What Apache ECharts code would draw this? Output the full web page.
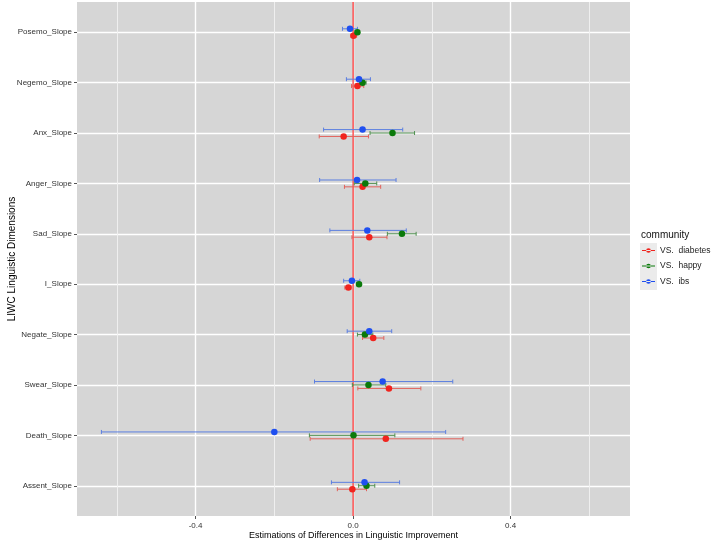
<!DOCTYPE html>
<html>
<head>
<meta charset="utf-8">
<script src="https://cdn.jsdelivr.net/npm/echarts@6/dist/echarts.min.js"></script>
<style>
  html, body { margin: 0; padding: 0; background: #fff; }
  #chart { width: 712px; height: 544px; }
</style>
</head>
<body>
<div id="chart"></div>
<script>
// 数据
var categories = ['Posemo_Slope', 'Negemo_Slope', 'Anx_Slope', 'Anger_Slope', 'Sad_Slope',
                  'I_Slope', 'Negate_Slope', 'Swear_Slope', 'Death_Slope', 'Assent_Slope'];

var diabetesEst  = [0.001, 0.011, -0.024, 0.024, 0.041, -0.012, 0.051, 0.091, 0.083, -0.002];
var diabetesLow  = [-0.006, -0.004, -0.086, -0.022, -0.003, -0.021, 0.024, 0.012, -0.109, -0.040];
var diabetesHigh = [0.009, 0.027, 0.039, 0.070, 0.086, -0.005, 0.078, 0.172, 0.279, 0.034];

var happyEst  = [0.011, 0.024, 0.100, 0.031, 0.124, 0.015, 0.030, 0.039, 0.001, 0.034];
var happyLow  = [0.005, 0.016, 0.043, 0.003, 0.087, 0.010, 0.011, -0.002, -0.111, 0.014];
var happyHigh = [0.016, 0.033, 0.156, 0.060, 0.160, 0.020, 0.050, 0.083, 0.106, 0.055];

var ibsEst  = [-0.008, 0.015, 0.024, 0.010, 0.036, -0.003, 0.041, 0.075, -0.200, 0.029];
var ibsLow  = [-0.027, -0.017, -0.075, -0.085, -0.059, -0.024, -0.015, -0.098, -0.639, -0.055];
var ibsHigh = [0.011, 0.044, 0.126, 0.109, 0.135, 0.017, 0.098, 0.253, 0.235, 0.118];

var xMajorTicks = [-0.4, 0, 0.4];
var xMinorTicks = [-0.6, -0.2, 0.2, 0.6];
var refLine = [0];

var communities = [
    { name: 'VS.  diabetes', est: diabetesEst, low: diabetesLow, high: diabetesHigh, color: '#f0241e', bar: '#e2625c', dodge: 0.068 },
    { name: 'VS.  happy',    est: happyEst,    low: happyLow,    high: happyHigh,    color: '#0b7a0b', bar: '#4f8f4f', dodge: 0 },
    { name: 'VS.  ibs',      est: ibsEst,      low: ibsLow,      high: ibsHigh,      color: '#1f4ff0', bar: '#5c7fe0', dodge: -0.068 }
];

var myChart = echarts.init(document.getElementById('chart'));

var rowIdx = categories.map(function (c, i) { return i; });
var legendIcon = 'path://M0,4.4H20V5.6H0Z M6.4,5A3.6,3.6,0,1,0,13.6,5A3.6,3.6,0,1,0,6.4,5Z';

var series = [];

// x = 0 参考线 (红色竖线)
series.push({
    name: 'zero',
    type: 'custom',
    xAxisIndex: 0,
    z: 2,
    silent: true,
    renderItem: function (params, api) {
        var top = api.coord([api.value(0), -0.6]);
        var bottom = api.coord([api.value(0), 9.6]);
        return {
            type: 'line',
            shape: { x1: top[0], y1: top[1], x2: bottom[0], y2: bottom[1] },
            style: { stroke: '#ff0000', lineWidth: 1 }
        };
    },
    encode: { x: 0 },
    data: refLine.map(function (v) { return [v]; })
});

communities.forEach(function (c) {
    // 误差线
    series.push({
        name: c.name,
        type: 'custom',
        xAxisIndex: 0,
        z: 3,
        renderItem: function (params, api) {
            var y = api.value(2);
            var p1 = api.coord([api.value(0), y]);
            var p2 = api.coord([api.value(1), y]);
            var cap = 2;
            var st = { stroke: c.bar, lineWidth: 1 };
            return {
                type: 'group',
                children: [
                    { type: 'line', shape: { x1: p1[0], y1: p1[1], x2: p2[0], y2: p2[1] }, style: st },
                    { type: 'line', shape: { x1: p1[0], y1: p1[1] - cap, x2: p1[0], y2: p1[1] + cap }, style: st },
                    { type: 'line', shape: { x1: p2[0], y1: p2[1] - cap, x2: p2[0], y2: p2[1] + cap }, style: st }
                ]
            };
        },
        encode: { x: [0, 1], y: 2 },
        data: rowIdx.map(function (i) { return [c.low[i], c.high[i], i + c.dodge]; }),
        silent: true
    });
    // 点
    series.push({
        name: c.name,
        type: 'scatter',
        xAxisIndex: 0,
        z: 4,
        symbol: 'circle',
        symbolSize: 6.5,
        itemStyle: { color: c.color, opacity: 1 },
        data: rowIdx.map(function (i) { return [c.est[i], i + c.dodge]; })
    });
});

option = {
    animation: false,
    backgroundColor: '#ffffff',
    title: {
        text: 'community',
        left: 641,
        top: 230,
        padding: 0,
        textStyle: { fontFamily: 'Liberation Sans', fontSize: 10, fontWeight: 'normal', color: '#111' }
    },
    legend: {
        orient: 'vertical',
        left: 642,
        top: 245,
        padding: 0,
        itemWidth: 13,
        itemHeight: 6,
        itemGap: 4.5,
        icon: legendIcon,
        data: communities.map(function (c) {
            return { name: c.name, itemStyle: { color: c.color } };
        }),
        textStyle: { fontFamily: 'Liberation Sans', fontSize: 8.5, color: '#222', lineHeight: 11 }
    },
    graphic: [
        { type: 'rect', left: 640, top: 243, z: -1, shape: { width: 17, height: 47 }, style: { fill: '#ebebeb' } }
    ],
    grid: {
        left: 77, top: 2, width: 553, height: 514,
        outerBoundsMode: 'none',
        containLabel: false,
        show: true, backgroundColor: '#d6d6d6', borderWidth: 0
    },
    xAxis: [
        {
            type: 'value',
            min: -0.701, max: 0.703,
            name: 'Estimations of Differences in Linguistic Improvement',
            nameLocation: 'middle',
            nameGap: 15,
            nameMoveOverlap: false,
            nameTextStyle: { fontFamily: 'Liberation Sans', fontSize: 9, color: '#000' },
            axisLine: { show: false, onZero: false },
            axisTick: { show: true, length: 3, customValues: xMajorTicks, lineStyle: { color: '#555' } },
            axisLabel: {
                customValues: xMajorTicks,
                margin: 6,
                fontFamily: 'Liberation Sans', fontSize: 8, color: '#333',
                formatter: function (v) { return v.toFixed(1); }
            },
            splitLine: { show: true, lineStyle: { color: '#ffffff', width: 1.4 } }
        },
        {
            type: 'value',
            min: -0.701, max: 0.703,
            gridIndex: 0,
            position: 'bottom',
            axisLine: { show: false, onZero: false },
            axisTick: { show: false, customValues: xMinorTicks },
            axisLabel: { show: false, customValues: xMinorTicks },
            splitLine: { show: true, lineStyle: { color: '#f2f2f2', width: 0.9 } }
        }
    ],
    yAxis: {
        type: 'value',
        inverse: true,
        min: -0.6, max: 9.6,
        name: 'LIWC Linguistic Dimensions',
        nameLocation: 'middle',
        nameGap: 60,
        nameMoveOverlap: false,
        nameTextStyle: { fontFamily: 'Liberation Sans', fontSize: 10, color: '#000' },
        axisLine: { show: false, onZero: false },
        axisTick: { show: true, length: 3, customValues: rowIdx, lineStyle: { color: '#555' } },
        axisLabel: {
            customValues: rowIdx,
            margin: 5,
            fontFamily: 'Liberation Sans', fontSize: 8, color: '#333',
            formatter: function (v) { return categories[Math.round(v)]; }
        },
        splitLine: { show: true, lineStyle: { color: '#ffffff', width: 1.4 } }
    },
    series: series
};

myChart.setOption(option);
</script>
</body>
</html>
